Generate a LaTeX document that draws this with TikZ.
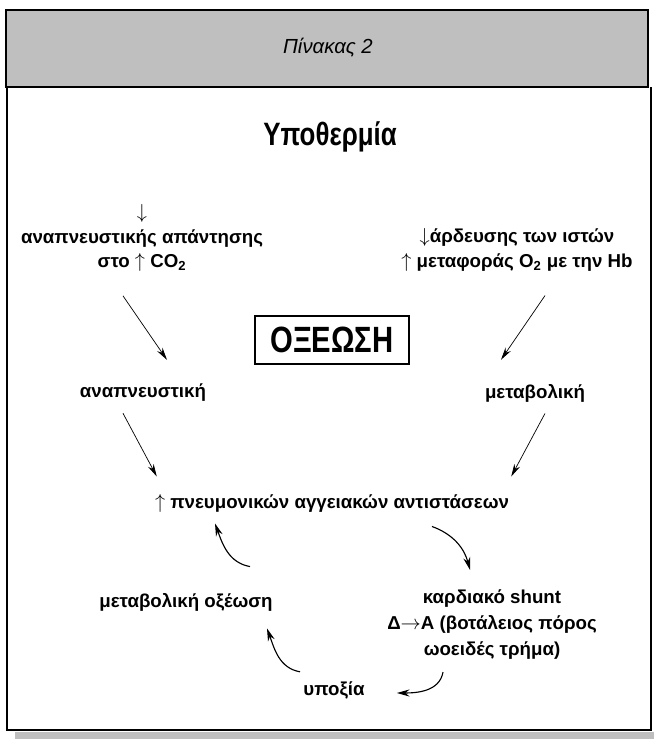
\documentclass[tikz,border=0pt]{standalone}
\usepackage{fontspec}
\setmainfont{Liberation Sans}
\newfontfamily\condfont{Liberation Sans}[FakeStretch=0.8]
\usetikzlibrary{arrows.meta}
\begin{document}
\begin{tikzpicture}[outline/.style={draw=#1,line width=1pt},
  txt/.style={inner sep=0pt,align=center,font=\fontsize{13.3}{17.5}\selectfont\bfseries},
  arr/.style={-{Stealth[length=9pt,width=4.5pt]},line width=0.5pt},
  bent/.style={-{Stealth[length=9pt,width=5pt]},line width=0.8pt}]
\useasboundingbox (0,0) rectangle (16.35,18.475);
\fill[fill=black!25,outline=black] (0.15,16.3) rectangle (16.2,18.225);
\draw[line width=1.6pt] (0.15,16.3) -- (16.2,16.3);
\draw[line width=1pt] (0.175,16.3) -- (0.175,0.225) -- (16.275,0.225) -- (16.275,16.3);
\draw[line width=1.6pt] (0.175,0.225) -- (16.275,0.225);
\fill[black!25] (0.375,0) rectangle (16.35,0.175);
\node (title) at (8.2,17.275) {\fontsize{14.5}{16}\selectfont\itshape Πίνακας 2};
\node[inner sep=0pt] (hypo) at (8.25,15.05) {\fontsize{23}{26}\selectfont\condfont\bfseries Υποθερμία};
\node[txt] (lres) at (3.55,12.525) {$\downarrow$\\αναπνευστικής απάντησης\\στο $\uparrow$ CO\textsubscript{2}};
\node[txt] (rres) at (12.925,12.225) {$\downarrow$άρδευσης των ιστών\\$\uparrow$ μεταφοράς O\textsubscript{2} με την Hb};
\node[draw,line width=1.2pt,minimum width=3.85cm,minimum height=1.2cm,inner sep=0pt,
  font=\fontsize{26}{28}\selectfont\condfont\bfseries] (acid) at (8.3,9.975) {ΟΞΕΩΣΗ};
\node[txt] (lmid) at (3.575,8.65) {αναπνευστική};
\node[txt] (rmid) at (13.375,8.65) {μεταβολική};
\node[txt] (pvr) at (8.3,5.9) {$\uparrow$ πνευμονικών αγγειακών αντιστάσεων};
\node[txt] (macid) at (4.65,3.425) {μεταβολική οξέωση};
\node[txt,font=\fontsize{13.3}{18.5}\selectfont\bfseries] (shunt) at (12.3,2.85) {καρδιακό shunt\\Δ$\rightarrow$Α (βοτάλειος πόρος\\ωοειδές τρήμα)};
\node[txt] (hypox) at (8.35,1.225) {υποξία};
\draw[arr] ([xshift=-0.475cm,yshift=-0.6cm]lres.south) -- ([xshift=0.6cm,yshift=0.6cm]lmid.north);
\draw[arr] ([xshift=0.7cm,yshift=-0.6cm]rres.south) -- ([xshift=-0.85cm,yshift=0.6cm]rmid.north);
\draw[arr] ([xshift=-0.5cm,yshift=-0.28cm]lmid.south) -- ([xshift=0.05cm,yshift=0.43cm]pvr.north west);
\draw[arr] ([xshift=0.25cm,yshift=-0.28cm]rmid.south) -- ([xshift=0.05cm,yshift=0.43cm]pvr.north east);
\draw[bent] ([xshift=2.5cm,yshift=-0.355cm]pvr.south) to[out=-20,in=105] ([xshift=-0.55cm,yshift=0.5cm]shunt.north);
\draw[bent] ([xshift=-1.225cm,yshift=-0.3cm]shunt.south) to[out=-100,in=0] ([xshift=0.8cm,yshift=-0.075cm]hypox.east);
\draw[bent] ([xshift=-0.85cm,yshift=0.23cm]hypox.north) to[out=170,in=-70] ([xshift=2.025cm,yshift=-0.43cm]macid.south);
\draw[bent] ([xshift=1.6cm,yshift=0.655cm]macid.north) to[out=170,in=-70] ([xshift=-2.925cm,yshift=-0.28cm]pvr.south);
\end{tikzpicture}
\end{document}
